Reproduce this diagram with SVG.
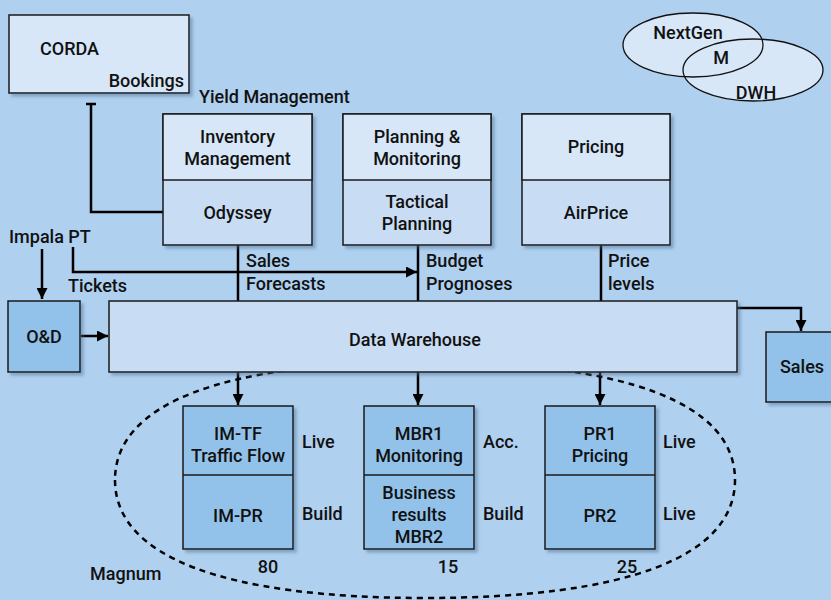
<svg xmlns="http://www.w3.org/2000/svg" width="831" height="600" viewBox="0 0 831 600">
<defs>
<style>
text{font-family:Roboto,"Liberation Sans",sans-serif;font-size:18px;font-weight:500;fill:#111;}
.c{text-anchor:middle;}
.r{text-anchor:end;}
.box{stroke:#1a1a1a;stroke-width:1.5;}
.lt{fill:#d7e7f7;}
.md{fill:#c8ddf3;}
.dk{fill:#92c2ea;}
.ln{fill:none;stroke:#000;stroke-width:2.5;}
.dash{fill:none;stroke:#000;stroke-width:2.5;stroke-dasharray:6 5;}
</style>
<filter id="sh" x="-10%" y="-10%" width="130%" height="130%">
<feDropShadow dx="3" dy="3" stdDeviation="1.5" flood-color="#50708f" flood-opacity="0.45"/>
</filter>
<marker id="ah" viewBox="0 0 10 10" refX="10" refY="5" markerWidth="11" markerHeight="11" markerUnits="userSpaceOnUse" orient="auto">
<path d="M0,0 L10,5 L0,10 Z" fill="#000"/>
</marker>
</defs>
<rect width="831" height="600" fill="#afd0ef"/>

<path id="magnum-outline" class="dash" d="M115,480 C115,556.7 223.5,598 425,598 C626.5,598 735,556.7 735,480 C735,403.3 626.5,362 425,362 C223.5,362 115,403.3 115,480 Z"/>

<g id="venn">
<ellipse cx="693" cy="45" rx="70" ry="32" class="lt"/>
<ellipse cx="753" cy="70" rx="70" ry="31" class="lt"/>
<ellipse cx="693" cy="45" rx="70" ry="32" fill="none" stroke="#111" stroke-width="1.3"/>
<ellipse cx="753" cy="70" rx="70" ry="31" fill="none" stroke="#111" stroke-width="1.3"/>
<text x="688" y="39" class="c">NextGen</text>
<text x="721" y="64" class="c">M</text>
<text x="756" y="99" class="c">DWH</text>
</g>

<g id="connectors">
<path class="ln" d="M86,104 H96 M91,104 V212 H163"/>
<path class="ln" d="M42,249 V299" marker-end="url(#ah)"/>
<path class="ln" d="M73,247 V272 H417" marker-end="url(#ah)"/>
<path class="ln" d="M238,245 V301 M418,245 V301 M601,245 V301"/>
<path class="ln" d="M81,336 H108" marker-end="url(#ah)"/>
<path class="ln" d="M737,308 H801 V331" marker-end="url(#ah)"/>
<path class="ln" d="M238,372 V405" marker-end="url(#ah)"/>
<path class="ln" d="M418,372 V405" marker-end="url(#ah)"/>
<path class="ln" d="M600,372 V405" marker-end="url(#ah)"/>
</g>

<g id="corda">
<rect x="9" y="15" width="180" height="78" class="box lt" filter="url(#sh)"/>
<text x="40" y="55">CORDA</text>
<text x="184" y="87" class="r">Bookings</text>
</g>
<text x="199" y="103">Yield Management</text>

<g id="inventory">
<rect x="163" y="114" width="149" height="131" class="box md" filter="url(#sh)"/>
<rect x="163" y="114" width="149" height="66" class="box lt"/>
<text x="237.5" y="143" class="c">Inventory</text>
<text x="237.5" y="165" class="c">Management</text>
<text x="237.5" y="219" class="c">Odyssey</text>
</g>
<g id="planning">
<rect x="343" y="114" width="148" height="131" class="box md" filter="url(#sh)"/>
<rect x="343" y="114" width="148" height="66" class="box lt"/>
<text x="417" y="143" class="c">Planning &amp;</text>
<text x="417" y="165" class="c">Monitoring</text>
<text x="417" y="208" class="c">Tactical</text>
<text x="417" y="230" class="c">Planning</text>
</g>
<g id="pricing">
<rect x="522" y="114" width="148" height="131" class="box md" filter="url(#sh)"/>
<rect x="522" y="114" width="148" height="66" class="box lt"/>
<text x="596" y="153" class="c">Pricing</text>
<text x="596" y="219" class="c">AirPrice</text>
</g>

<text x="9" y="243">Impala PT</text>
<text x="68" y="292">Tickets</text>
<text x="246" y="267">Sales</text>
<text x="246" y="290">Forecasts</text>
<text x="426" y="267">Budget</text>
<text x="426" y="290">Prognoses</text>
<text x="608" y="267">Price</text>
<text x="608" y="290">levels</text>

<g id="od">
<rect x="8" y="301" width="72" height="71" class="box dk" filter="url(#sh)"/>
<text x="44" y="343" class="c">O&amp;D</text>
</g>
<g id="dw">
<rect x="109" y="301" width="628" height="71" class="box md" filter="url(#sh)"/>
<text x="415" y="346" class="c">Data Warehouse</text>
</g>
<g id="sales">
<rect x="766" y="332" width="70" height="70" class="box dk" filter="url(#sh)"/>
<text x="802" y="373" class="c">Sales</text>
</g>

<g id="im">
<rect x="183" y="406" width="110" height="143" class="box dk" filter="url(#sh)"/>
<line x1="183" y1="475" x2="293" y2="475" stroke="#1a1a1a" stroke-width="1.5"/>
<text x="238" y="440" class="c">IM-TF</text>
<text x="238" y="462" class="c">Traffic Flow</text>
<text x="238" y="522" class="c">IM-PR</text>
</g>
<g id="mbr">
<rect x="364" y="406" width="110" height="143" class="box dk" filter="url(#sh)"/>
<line x1="364" y1="475" x2="474" y2="475" stroke="#1a1a1a" stroke-width="1.5"/>
<text x="419" y="440" class="c">MBR1</text>
<text x="419" y="462" class="c">Monitoring</text>
<text x="419" y="499" class="c">Business</text>
<text x="419" y="521" class="c">results</text>
<text x="419" y="543" class="c">MBR2</text>
</g>
<g id="pr">
<rect x="545" y="406" width="110" height="143" class="box dk" filter="url(#sh)"/>
<line x1="545" y1="475" x2="655" y2="475" stroke="#1a1a1a" stroke-width="1.5"/>
<text x="600" y="440" class="c">PR1</text>
<text x="600" y="462" class="c">Pricing</text>
<text x="600" y="522" class="c">PR2</text>
</g>

<text x="302" y="448">Live</text>
<text x="302" y="520">Build</text>
<text x="483" y="448">Acc.</text>
<text x="483" y="520">Build</text>
<text x="663" y="448">Live</text>
<text x="663" y="520">Live</text>
<text x="268" y="573" class="c">80</text>
<text x="448" y="573" class="c">15</text>
<text x="627" y="573" class="c">25</text>
<text x="90" y="580">Magnum</text>
</svg>
